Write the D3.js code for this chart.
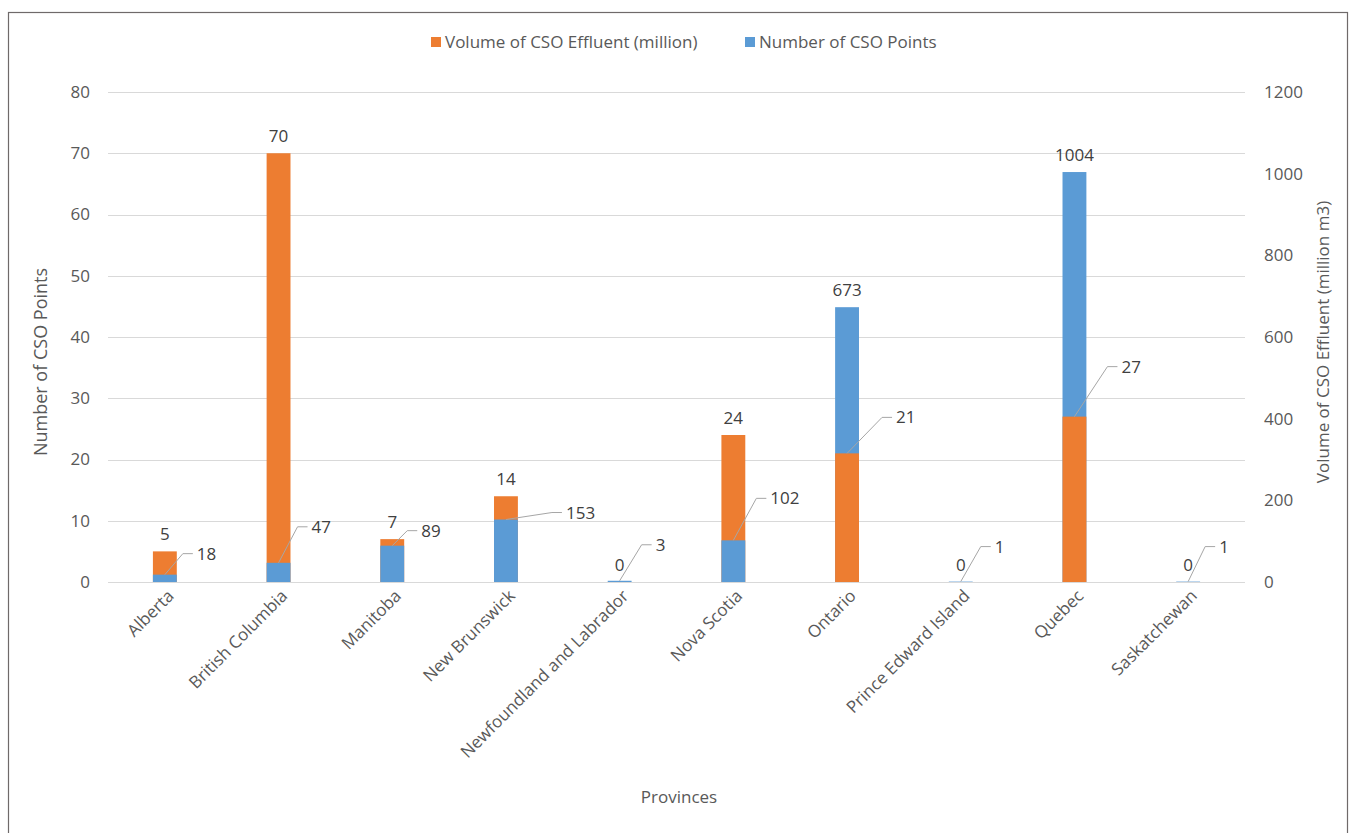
<!DOCTYPE html>
<html>
<head>
<meta charset="utf-8">
<script src="https://cdn.jsdelivr.net/npm/d3@7"></script>
<style>
  html, body { margin: 0; padding: 0; background: #fff; }
  svg text { font-family: "Open Sans", "Liberation Sans", sans-serif; }
</style>
</head>
<body>
<svg id="chart" width="1353" height="833"></svg>
<script>
// Provinces along the x axis
const categories = ["Alberta", "British Columbia", "Manitoba", "New Brunswick",
  "Newfoundland and Labrador", "Nova Scotia", "Ontario", "Prince Edward Island",
  "Quebec", "Saskatchewan"];

// Volume of CSO effluent (million) — left axis
const volumeValues = [5, 70, 7, 14, 0, 24, 21, 0, 27, 0];
// Number of CSO points — right axis
const pointValues = [18, 47, 89, 153, 3, 102, 673, 1, 1004, 1];

// Axis ticks
const leftTicks = [0, 10, 20, 30, 40, 50, 60, 70, 80];
const rightTicks = [0, 200, 400, 600, 800, 1000, 1200];

// Callout placement for the label of the shorter bar (elbow offset from bar top)
const calloutOffsets = [[18, -21], [19, -36], [15, -15], [46, -7], [22, -36],
  [23, -42], [35, -36], [20, -35], [33, -50], [17, -35]];

const ORANGE = "#ED7D31", BLUE = "#5B9BD5";
const FONT = 17;
const svg = d3.select("#chart");

// Chart frame
svg.append("rect").attr("x", 8.5).attr("y", 12.5).attr("width", 1339).attr("height", 840)
  .attr("fill", "#fff").attr("stroke", "#6f6a6a").attr("stroke-width", 1.2);

const plot = { left: 108, right: 1245, top: 92, bottom: 582 };

const x = d3.scaleBand().domain(categories).range([plot.left, plot.right])
  .paddingInner(0.79).paddingOuter(0.395);
const yLeft = d3.scaleLinear().domain([0, 80]).range([plot.bottom, plot.top]);
const yRight = d3.scaleLinear().domain([0, 1200]).range([plot.bottom, plot.top]);

// Gridlines
svg.append("g").selectAll("line").data(leftTicks).join("line")
  .attr("x1", plot.left).attr("x2", plot.right)
  .attr("y1", d => Math.round(yLeft(d)) + 0.5).attr("y2", d => Math.round(yLeft(d)) + 0.5)
  .attr("stroke", "#d9d9d9").attr("stroke-width", 1);

// Axes
const axisStyle = g => {
  g.select(".domain").remove();
  g.selectAll(".tick line").remove();
  g.selectAll("text").attr("fill", "#595959").attr("font-size", FONT);
};
svg.append("g").attr("transform", `translate(${plot.left},0)`)
  .call(d3.axisLeft(yLeft).tickValues(leftTicks).tickFormat(d3.format("d"))
    .tickSize(0).tickPadding(18))
  .call(axisStyle);
svg.append("g").attr("transform", `translate(${plot.right},0)`)
  .call(d3.axisRight(yRight).tickValues(rightTicks).tickFormat(d3.format("d"))
    .tickSize(0).tickPadding(19))
  .call(axisStyle);

const xAxis = svg.append("g").attr("transform", `translate(0,${plot.bottom})`)
  .call(d3.axisBottom(x).tickSize(0).tickPadding(0));
xAxis.select(".domain").remove();
xAxis.selectAll("text")
  .attr("fill", "#595959").attr("font-size", FONT)
  .attr("text-anchor", "end")
  .attr("dy", 0)
  .attr("transform", "translate(10,15) rotate(-45)");

// Bars: per province, the taller bar is drawn behind the shorter one
const rows = categories.map((c, i) => {
  const bars = [
    { key: "vol", value: volumeValues[i], top: yLeft(volumeValues[i]), color: ORANGE },
    { key: "pts", value: pointValues[i], top: yRight(pointValues[i]), color: BLUE }
  ];
  return { cat: c, i, bars };
});

const barG = svg.append("g");
rows.forEach(r => {
  const ordered = r.bars.slice().sort((a, b) => a.top - b.top);
  barG.selectAll(null).data(ordered).join("rect")
    .attr("x", x(r.cat)).attr("width", x.bandwidth())
    .attr("y", d => d.top).attr("height", d => plot.bottom - d.top)
    .attr("fill", d => d.color);
});

// Data labels
const labelG = svg.append("g").attr("font-size", FONT).attr("fill", "#404040");
rows.forEach(r => {
  const cx = x(r.cat) + x.bandwidth() / 2;
  const nonZero = r.bars.filter(b => b.value > 0);
  // the shorter non-zero bar gets a callout label
  const callout = nonZero.length === 1 ? nonZero[0]
    : r.bars.slice().sort((a, b) => b.top - a.top)[0];
  r.bars.forEach(b => {
    if (b === callout) {
      const [dx, dy] = calloutOffsets[r.i];
      const ex = cx + dx, ey = b.top + dy;
      labelG.append("path")
        .attr("d", `M${cx},${b.top}L${ex},${ey}L${ex + 10},${ey}`)
        .attr("fill", "none").attr("stroke", "#a6a6a6").attr("stroke-width", 1);
      labelG.append("text").attr("x", ex + 14).attr("y", ey + 6)
        .text(b.value);
    } else {
      labelG.append("text").attr("x", cx).attr("y", b.top - 11)
        .attr("text-anchor", "middle").text(b.value);
    }
  });
});

// Legend
const legend = svg.append("g").attr("font-size", FONT).attr("fill", "#595959");
const legendItems = [
  { label: "Volume of CSO Effluent (million)", color: ORANGE, x: 431 },
  { label: "Number of CSO Points", color: BLUE, x: 745 }
];
legendItems.forEach(it => {
  legend.append("rect").attr("x", it.x).attr("y", 37).attr("width", 10).attr("height", 10)
    .attr("fill", it.color);
  legend.append("text").attr("x", it.x + 14).attr("y", 48).text(it.label);
});

// Axis titles
svg.append("text").attr("x", 679).attr("y", 803).attr("text-anchor", "middle")
  .attr("font-size", FONT).attr("fill", "#595959").text("Provinces");
svg.append("text").attr("transform", "translate(47,362) rotate(-90)")
  .attr("text-anchor", "middle").attr("font-size", 18).attr("fill", "#595959")
  .text("Number of CSO Points");
svg.append("text").attr("transform", "translate(1329,342) rotate(-90)")
  .attr("text-anchor", "middle").attr("font-size", FONT).attr("fill", "#595959")
  .text("Volume of CSO Effluent (million m3)");
</script>
</body>
</html>
